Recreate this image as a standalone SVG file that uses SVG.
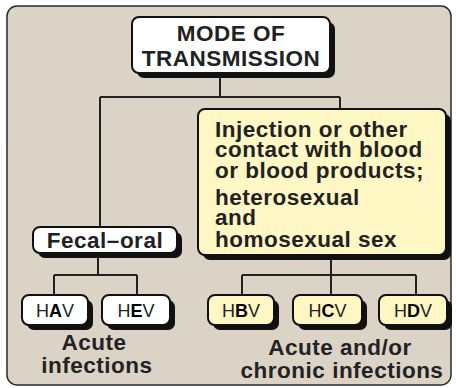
<svg xmlns="http://www.w3.org/2000/svg" width="456" height="388" viewBox="0 0 456 388">
<style>
.panel{fill:#dcd3c7;stroke:#2a2a2a;stroke-width:1.5}
.sh{fill:#111}
.bw{fill:#fff;stroke:#111;stroke-width:2}
.by{fill:#fff8c4;stroke:#111;stroke-width:2}
.t{font-family:"Liberation Sans",Arial,Helvetica,sans-serif;font-weight:bold;fill:#222;font-size:22.5px;letter-spacing:0.5px}
.c{text-anchor:middle}
.v{font-family:"Liberation Sans",Arial,Helvetica,sans-serif;font-size:18px;fill:#222;text-anchor:middle}
.v tspan.b{font-weight:bold;fill:#000}
.ln{fill:none;stroke:#222;stroke-width:2}
</style>
<rect class="panel" x="7" y="6" width="444" height="379" rx="10"/>
<g id="connectors">
<path class="ln" d="M220,72 V97 M100,97 H340 M100,97 V227 M340,97 V109"/>
<path class="ln" d="M98,252 V275 M54,275 H137 M54,275 V295 M137,275 V295"/>
<path class="ln" d="M331,255 V275 M242,275 H416 M242,275 V295 M331,275 V295 M416,275 V295"/>
</g>
<g id="title">
<rect class="sh" x="137" y="22" width="198" height="56" rx="7"/>
<rect class="bw" x="132" y="17" width="198" height="56" rx="7"/>
<text class="t c"><tspan x="231" y="41">MODE OF</tspan><tspan x="231" y="66">TRANSMISSION</tspan></text>
</g>
<g id="blood">
<rect class="sh" x="203" y="114" width="248" height="146" rx="7"/>
<rect class="by" x="198" y="109" width="248" height="146" rx="7"/>
<text class="t"><tspan x="215" y="137">Injection or other</tspan><tspan x="215" y="157">contact with blood</tspan><tspan x="215" y="178">or blood products;</tspan><tspan x="215" y="205">heterosexual</tspan><tspan x="215" y="225">and</tspan><tspan x="215" y="247">homosexual sex</tspan></text>
</g>
<g id="fecal">
<rect class="sh" x="38" y="232" width="144" height="26" rx="7"/>
<rect class="bw" x="33" y="227" width="144" height="26" rx="7"/>
<text class="t c" x="105" y="248">Fecal–oral</text>
</g>
<g id="hav">
<rect class="sh" x="27" y="300" width="66" height="30" rx="7"/>
<rect class="bw" x="22" y="295" width="66" height="30" rx="7"/>
<text class="v" x="55" y="317">H<tspan class="b">A</tspan>V</text>
</g>
<g id="hev">
<rect class="sh" x="107" y="300" width="68" height="30" rx="7"/>
<rect class="bw" x="102" y="295" width="68" height="30" rx="7"/>
<text class="v" x="136" y="317">H<tspan class="b">E</tspan>V</text>
</g>
<g id="hbv">
<rect class="sh" x="213" y="300" width="66" height="30" rx="7"/>
<rect class="by" x="208" y="295" width="66" height="30" rx="7"/>
<text class="v" x="241" y="317">H<tspan class="b">B</tspan>V</text>
</g>
<g id="hcv">
<rect class="sh" x="298" y="300" width="69" height="30" rx="7"/>
<rect class="by" x="293" y="295" width="69" height="30" rx="7"/>
<text class="v" x="327.5" y="317">H<tspan class="b">C</tspan>V</text>
</g>
<g id="hdv">
<rect class="sh" x="384" y="300" width="68" height="30" rx="7"/>
<rect class="by" x="379" y="295" width="68" height="30" rx="7"/>
<text class="v" x="413" y="317">H<tspan class="b">D</tspan>V</text>
</g>
<g id="labels">
<text class="t c"><tspan x="94" y="350">Acute</tspan><tspan x="97" y="373">infections</tspan></text>
<text class="t c"><tspan x="340" y="355">Acute and/or</tspan><tspan x="342" y="378">chronic infections</tspan></text>
</g>
</svg>
